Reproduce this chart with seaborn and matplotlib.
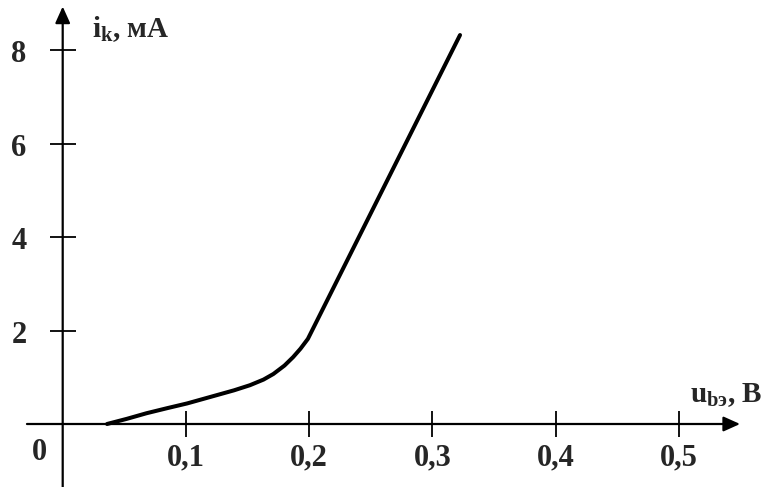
#!/usr/bin/env python3
# -*- coding: utf-8 -*-

"""
Input characteristic of a transistor: collector current vs base-emitter voltage.
Drawn in a textbook style with arrowed axes through the origin.
"""

import matplotlib
matplotlib.use('Agg')
import matplotlib.pyplot as plt
import seaborn as sns

# Curve (u in V, i in mA)
u_be = [0.036, 0.052, 0.068, 0.085, 0.101, 0.120, 0.139, 0.152, 0.163,
        0.171, 0.180, 0.187, 0.193, 0.199, 0.3225]
i_k = [0.0, 0.11, 0.23, 0.34, 0.44, 0.58, 0.72, 0.83, 0.95,
       1.07, 1.25, 1.43, 1.61, 1.82, 8.32]

x_ticks = [0.1, 0.2, 0.3, 0.4, 0.5]
x_tick_labels = ['0,1', '0,2', '0,3', '0,4', '0,5']
y_ticks = [2, 4, 6, 8]
y_tick_labels = ['2', '4', '6', '8']

# Style
sns.set_style('white')
plt.rcParams['font.family'] = ['Liberation Serif', 'DejaVu Serif']
plt.rcParams['font.weight'] = 'bold'
plt.rcParams['mathtext.fontset'] = 'custom'
plt.rcParams['mathtext.rm'] = 'Liberation Serif:bold'
plt.rcParams['mathtext.it'] = 'Liberation Serif:bold'
plt.rcParams['mathtext.bf'] = 'Liberation Serif:bold'

fig = plt.figure(figsize=(7.67, 4.87), dpi=100)
ax = fig.add_axes([0, 0, 1, 1])

# pixel scale of the reference: 1232 px per volt, 46.75 px per mA
ax.set_xlim(-62.7 / 1232, (767 - 62.7) / 1232)
ax.set_ylim((424 - 487) / 46.75, 424 / 46.75)
ax.set_axis_off()

# Axes with arrow heads
arrow = dict(arrowstyle='-|>,head_length=1.0,head_width=0.45', lw=1.6,
             color='black', mutation_scale=10, shrinkA=0, shrinkB=0)
ax.annotate('', xy=(0.5498, 0), xytext=(-0.029, 0), arrowprops=arrow)
ax.annotate('', xy=(0, 8.93), xytext=(0, -1.4), arrowprops=arrow)

# Ticks
ax.vlines(x_ticks, -0.27, 0.27, color='black', lw=1.3)
ax.hlines(y_ticks, -0.0106, 0.0106, color='black', lw=1.3)

# Tick labels
for x, lab in zip(x_ticks, x_tick_labels):
    ax.text(x, -0.72, lab, ha='center', va='center', fontsize=22, fontweight='bold')
for y, lab in zip(y_ticks, y_tick_labels):
    ax.text(-0.0355, y - 0.1, lab, ha='center', va='center', fontsize=22, fontweight='bold')
ax.text(-0.0192, -0.62, '0', ha='center', va='center', fontsize=22, fontweight='bold')

# Axis titles
ax.text(0.0238, 8.28, r'$i_k$, мА', ha='left', va='baseline', fontsize=21, fontweight='bold')
ax.text(0.509, 0.477, r'$u_{bэ}$, В', ha='left', va='baseline', fontsize=21, fontweight='bold')

# Characteristic curve
sns.lineplot(x=u_be, y=i_k, ax=ax, color='black', linewidth=2.9, sort=False)

fig.savefig('out.png', dpi=100)
